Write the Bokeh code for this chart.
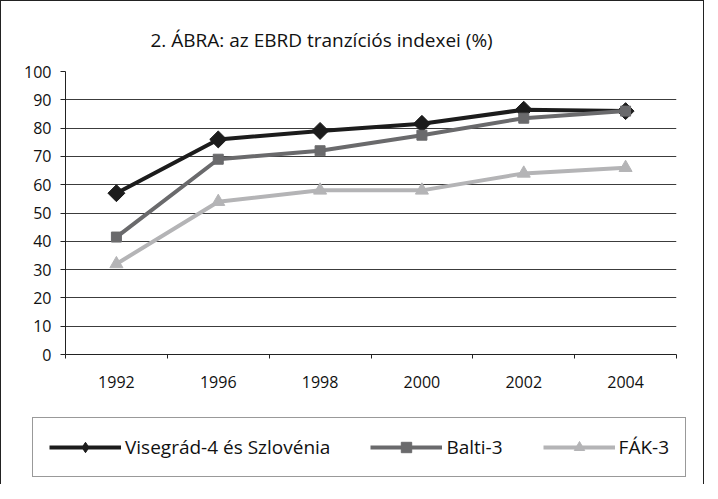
import numpy as np
from bokeh.plotting import figure
from bokeh.layouts import column
from bokeh.models import FixedTicker, Label, Legend, LegendItem, Range1d
from bokeh.embed import file_html
from bokeh.resources import INLINE

years = ["1992", "1996", "1998", "2000", "2002", "2004"]
visegrad = [57, 76, 79, 81.5, 86.5, 86]
balti = [41.5, 69, 72, 77.5, 83.5, 86]
fak = [32, 54, 58, 58, 64, 66]
y_ticks = list(range(0, 101, 10))
series_names = ["Visegrád-4 és Szlovénia", "Balti-3", "FÁK-3"]
title_text = "2. ÁBRA: az EBRD tranzíciós indexei (%)"

FONT = "Open Sans"
C1, C2, C3 = "#1c1c1c", "#6a6a6c", "#b4b4b6"
xs = list(range(len(years)))


def strip(height):
    f = figure(width=702, height=height, output_backend="svg", toolbar_location=None,
               x_range=Range1d(0, 1), y_range=Range1d(0, 1),
               x_axis_location=None, y_axis_location=None,
               min_border=0, min_border_left=0, min_border_right=0,
               min_border_top=0, min_border_bottom=0)
    f.grid.visible = False
    f.outline_line_color = None
    f.background_fill_color = "white"
    f.border_fill_color = "white"
    f.frame_align = False
    return f


# title strip
t = strip(58)
t.add_layout(Label(x=149, y=20, x_units="screen", y_units="screen", text=title_text,
                   text_align="left", text_baseline="alphabetic",
                   text_font=FONT, text_font_size="19px", text_color="#111"))

# main chart
p = figure(width=702, height=342, output_backend="svg", toolbar_location=None,
           x_range=Range1d(-0.5, len(years) - 0.5), y_range=Range1d(0, 100),
           min_border_left=64, min_border_right=27, min_border_top=12, min_border_bottom=47)
p.frame_align = False
p.outline_line_color = None
p.background_fill_color = "white"
p.border_fill_color = "white"

p.xaxis.ticker = FixedTicker(ticks=xs, minor_ticks=[i - 0.5 for i in range(len(years) + 1)])
p.xaxis.major_label_overrides = {i: y for i, y in enumerate(years)}
p.xaxis.major_tick_out = 0
p.xaxis.major_tick_in = 0
p.xaxis.minor_tick_out = 4
p.xaxis.minor_tick_in = 0
p.xaxis.minor_tick_line_color = "#222"
p.xaxis.major_label_standoff = 17
p.yaxis.ticker = FixedTicker(ticks=y_ticks, minor_ticks=[])
p.yaxis.major_tick_out = 5
p.yaxis.major_tick_in = 0
p.yaxis.major_label_standoff = 9
for ax in (p.xaxis, p.yaxis):
    ax.axis_line_color = "#222"
    ax.major_tick_line_color = "#222"
    ax.major_label_text_font = FONT
    ax.major_label_text_font_size = "16px"
    ax.major_label_text_color = "#111"
p.xgrid.visible = False
p.ygrid.ticker = FixedTicker(ticks=y_ticks)
p.ygrid.grid_line_color = "#3c3c3c"
p.ygrid.grid_line_width = 1

p.line(xs, visegrad, line_color=C1, line_width=4)
p.scatter(xs, visegrad, marker="square", angle=np.pi / 4, size=12, fill_color=C1, line_color=C1)
p.line(xs, balti, line_color=C2, line_width=4)
p.scatter(xs, balti, marker="square", size=10, fill_color=C2, line_color=C2)
p.line(xs, fak, line_color=C3, line_width=4)
p.scatter(xs, fak, marker="triangle", size=13, fill_color=C3, line_color=C3)

# legend strip
q = strip(83)
specs = [(C1, "diamond"), (C2, "square"), (C3, "triangle")]
items = []
for name, (col, mk) in zip(series_names, specs):
    # legend-only renderers: NaN data so nothing is drawn in the strip itself
    rl = q.line([np.nan], [np.nan], line_color=col, line_width=4)
    rm = q.scatter([np.nan], [np.nan], marker=mk, fill_color=col, line_color=col)
    items.append(LegendItem(label=name, renderers=[rl, rm]))

legend = Legend(items=items, orientation="horizontal", location=(31, 7))
legend.glyph_width = 72
legend.glyph_height = 26
legend.label_standoff = 4
legend.spacing = 40
legend.padding = 16
legend.margin = 0
legend.label_text_font = FONT
legend.label_text_font_size = "19px"
legend.label_text_color = "#111"
legend.border_line_color = "#333"
legend.border_line_width = 1
legend.background_fill_alpha = 1
q.add_layout(legend, "center")

layout = column(t, p, q, spacing=0)
layout.styles = {"border-top": "1px solid #222", "border-left": "1px solid #222",
                 "border-right": "1px solid #222"}

open("out.html", "w").write(file_html(layout, INLINE))
